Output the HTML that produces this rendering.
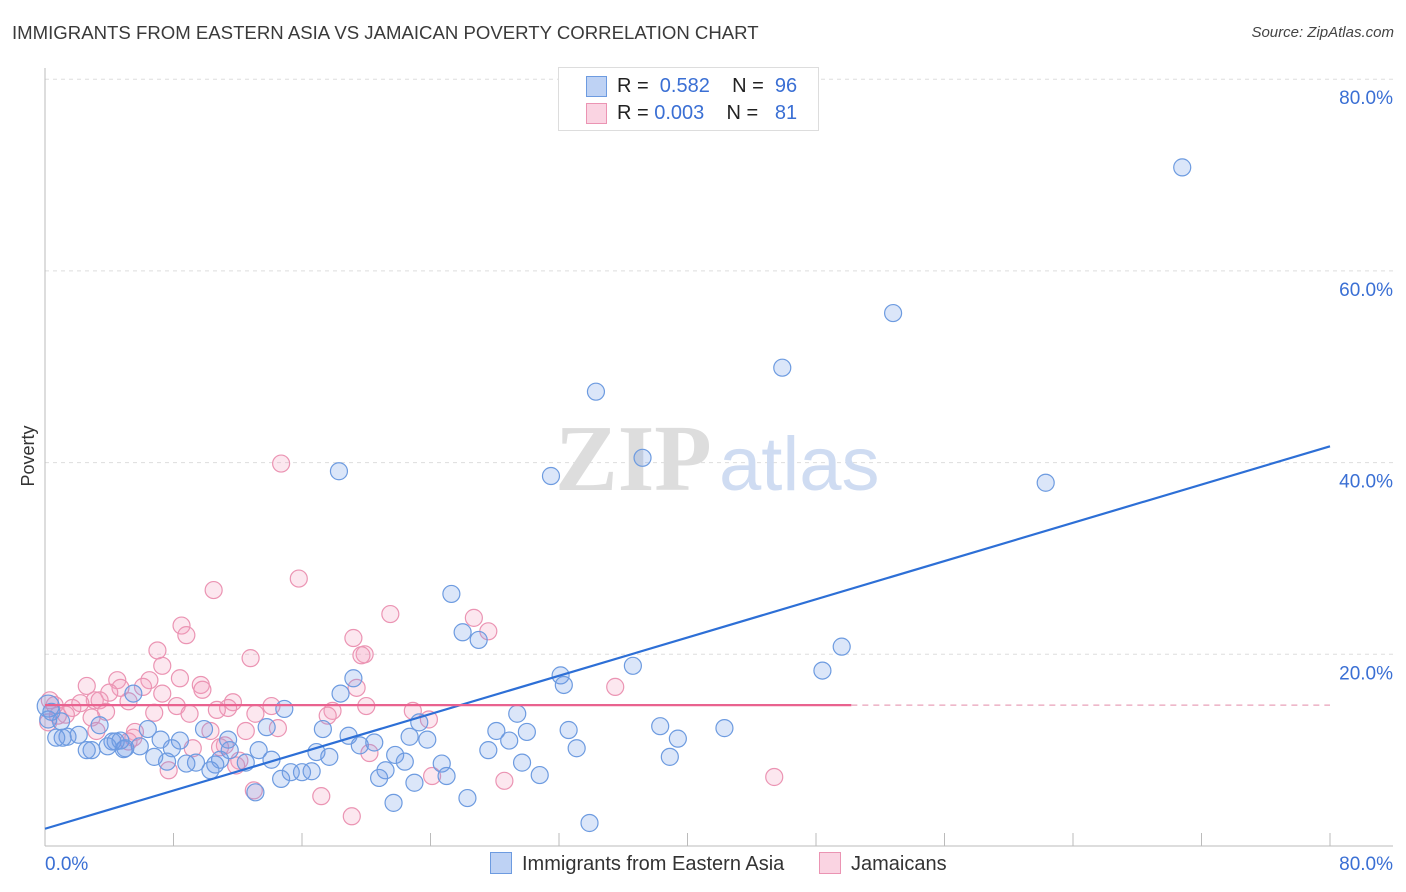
<!DOCTYPE html>
<html><head><meta charset="utf-8">
<style>
body{margin:0;background:#fff;font-family:"Liberation Sans",sans-serif;}
#wrap{position:relative;width:1406px;height:892px;overflow:hidden;}
.t{position:absolute;white-space:nowrap;}
</style></head>
<body>
<div id="wrap">
<div class="t" style="left:12px;top:22px;font-size:18.6px;color:#3a3a3a;">IMMIGRANTS FROM EASTERN ASIA VS JAMAICAN POVERTY CORRELATION CHART</div>
<div class="t" style="right:12px;top:24px;font-size:15px;color:#444;font-style:italic;">Source: ZipAtlas.com</div>
<svg id="chart" width="1406" height="892" style="position:absolute;left:0;top:0"></svg>
</div>
<script>
const xTicks=[0,80];
const yTicks=[20,40,60,80];
const blueX=[70.8,52.8,45.9,34.3,37.2,31.5,18.3,62.3,25.3,26.0,27.0,49.6,48.4,36.6,32.1,32.3,19.2,18.4,14.9,5.5,29.4,23.3,38.3,42.3,32.6,28.1,30.0,17.3,13.8,9.9,6.4,3.4,1.0,39.4,33.1,28.9,27.6,23.8,22.7,18.9,19.6,20.5,16.9,21.8,22.4,21.2,20.8,23.0,24.7,25.0,29.7,30.8,26.3,21.7,33.9,38.9,17.7,16.0,15.3,14.7,16.6,13.1,14.1,13.3,12.5,11.5,11.4,10.9,10.6,10.3,9.4,8.8,8.4,7.9,7.6,7.2,6.8,5.9,5.0,4.4,4.2,3.9,4.9,2.9,2.6,2.1,1.4,1.1,0.7,0.2,0.2,0.4,4.7];
const blueY=[70.8,55.6,49.9,47.4,40.5,38.6,39.1,37.9,26.3,22.3,21.5,20.8,18.3,18.8,17.8,16.8,17.5,15.9,14.3,15.9,13.8,12.9,12.5,12.3,12.1,12.0,11.9,12.2,12.4,12.2,12.2,12.6,13.0,11.2,10.2,11.0,10.0,11.1,11.4,11.5,10.5,10.8,9.8,9.5,8.8,7.9,7.1,6.6,8.6,7.3,8.7,7.4,5.0,4.5,2.4,9.3,9.3,7.7,7.7,7.0,7.8,5.6,9.0,10.0,8.7,10.0,11.1,9.0,8.5,7.9,8.7,8.6,11.0,10.2,8.8,11.1,9.3,10.4,10.2,10.9,10.9,10.4,10.1,10.0,10.0,11.6,11.4,11.3,11.3,14.6,13.2,14.0,11.0];
const pinkX=[14.7,15.8,10.5,21.5,26.7,27.6,8.5,8.8,19.2,19.9,19.7,7.0,12.8,7.3,35.5,4.5,8.4,6.5,6.1,2.6,9.7,9.8,19.4,7.3,4.7,4.0,3.1,3.4,5.2,11.7,14.1,20.0,22.9,23.9,17.9,17.6,11.4,10.7,13.1,8.2,9.0,6.8,3.8,2.9,1.7,1.3,0.8,0.6,0.2,14.5,12.5,10.3,5.6,5.5,5.2,3.2,11.2,10.9,9.2,20.2,12.1,11.9,24.1,28.6,7.7,13.0,17.2,19.1,45.4,0.3,2.2];
const pinkY=[39.9,27.9,26.7,24.2,23.8,22.4,23.0,22.0,21.7,20.0,19.9,20.4,19.6,18.8,16.6,17.3,17.5,17.3,16.6,16.7,16.8,16.3,16.5,15.9,16.5,16.0,15.2,15.2,15.1,15.0,14.6,14.6,14.1,13.2,14.1,13.6,14.4,14.2,13.8,14.6,13.8,13.9,14.0,13.4,14.4,13.7,13.6,14.7,12.9,12.3,12.0,12.0,11.9,11.3,10.9,12.0,10.5,10.3,10.2,9.7,8.9,8.4,7.3,6.8,7.9,5.8,5.2,3.1,7.2,15.2,14.9];
const blueTrend=[1.8,41.7];
const pinkTrend=[14.7,14.7];
const pinkSolidEnd=50.2;

const svg=document.getElementById('chart');
const NS='http://www.w3.org/2000/svg';
const X=v=>45+v*1285/80, Y=v=>846-v*9.585;
function el(tag,attrs,parent){const e=document.createElementNS(NS,tag);for(const k in attrs)e.setAttribute(k,attrs[k]);(parent||svg).appendChild(e);return e;}

yTicks.forEach(t=>{
  const g=el('line',{x1:45,x2:1393,y1:Y(t),y2:Y(t),stroke:'#ddd','stroke-dasharray':'4,4'});
  
  
  const tx=el('text',{x:1393,y:Y(t)+25,'text-anchor':'end','font-size':19,fill:'#3a6fd4','font-family':'Liberation Sans'});
  tx.textContent=t.toFixed(1)+'%';
  
  
});
el('line',{x1:45,x2:45,y1:68,y2:846,stroke:'#bbb'});
el('line',{x1:45,x2:1393,y1:846,y2:846,stroke:'#bbb'});
for(let i=0;i<=10;i++){const xx=45+i*128.5;el('line',{x1:xx,x2:xx,y1:846,y2:833,stroke:'#bbb'});}
xTicks.forEach((t,i)=>{
  const tx=el('text',{x:i==0?45:1393,y:870,'text-anchor':i==0?'start':'end','font-size':19,fill:'#3a6fd4','font-family':'Liberation Sans'});
  tx.textContent=t.toFixed(1)+'%';
  
  
});
const yt=el('text',{x:34,y:456,transform:'rotate(-90 34 456)','text-anchor':'middle','font-size':18,fill:'#333','font-family':'Liberation Sans'});
yt.textContent='Poverty';



const w1=el('text',{x:555,y:490,'font-size':94,fill:'#ddd','font-family':'Liberation Serif','font-weight':'bold'});
w1.textContent='ZIP';


const w2=el('text',{x:719,y:490,'font-size':76,fill:'#cfdcf2','font-family':'Liberation Sans'});
w2.textContent='atlas';



pinkX.forEach((x,i)=>{
  const c=el('circle',{cx:X(x),cy:Y(pinkY[i]),r:8.5,fill:'rgba(244,160,190,0.25)',stroke:'#eb94b3','stroke-width':1.2});
  
  
});
blueX.forEach((x,i)=>{
  const c=el('circle',{cx:X(x),cy:Y(blueY[i]),r:(i==89?11:8.5),fill:'rgba(110,155,230,0.25)',stroke:'#6d9be0','stroke-width':1.2});
  
  
});
const bl=el('line',{x1:X(0),y1:Y(blueTrend[0]),x2:X(80),y2:Y(blueTrend[1]),stroke:'#2d6fd6','stroke-width':2.2});


const pl=el('line',{x1:X(0),y1:Y(pinkTrend[0]),x2:X(pinkSolidEnd),y2:Y(pinkTrend[0]+(pinkTrend[1]-pinkTrend[0])*pinkSolidEnd/80),stroke:'#e9628f','stroke-width':2.2});


const pd=el('line',{x1:X(pinkSolidEnd),y1:Y(pinkTrend[0]),x2:X(80),y2:Y(pinkTrend[1]),stroke:'#e9a0b8','stroke-width':1.2,'stroke-dasharray':'6,5'});


</script>
<div style="position:absolute;left:558px;top:67px;width:259px;height:62px;border:1px solid #ddd;background:#fff;font-size:20px;color:#222;">
  <div style="position:absolute;left:27px;top:8px;width:19px;height:19px;background:rgba(110,155,230,0.45);border:1px solid #6d9be0;"></div>
  <div class="t" style="left:58px;top:7px;">R = &nbsp;<span style="color:#3a6fd4">0.582</span>&nbsp;&nbsp;&nbsp; N = &nbsp;<span style="color:#3a6fd4">96</span></div>
  <div style="position:absolute;left:27px;top:35px;width:19px;height:19px;background:rgba(244,160,190,0.45);border:1px solid #eb94b3;"></div>
  <div class="t" style="left:58px;top:34px;">R = <span style="color:#3a6fd4">0.003</span>&nbsp;&nbsp;&nbsp; N = &nbsp;&nbsp;<span style="color:#3a6fd4">81</span></div>
</div>
<div style="position:absolute;left:490px;top:852px;font-size:20px;color:#333;">
  <span style="display:inline-block;width:20px;height:20px;background:rgba(110,155,230,0.45);border:1px solid #6d9be0;vertical-align:-4px;margin-right:10px;"></span>Immigrants from Eastern Asia</div>
<div style="position:absolute;left:819px;top:852px;font-size:20px;color:#333;">
  <span style="display:inline-block;width:20px;height:20px;background:rgba(244,160,190,0.45);border:1px solid #eb94b3;vertical-align:-4px;margin-right:10px;"></span>Jamaicans</div>
</body></html>
